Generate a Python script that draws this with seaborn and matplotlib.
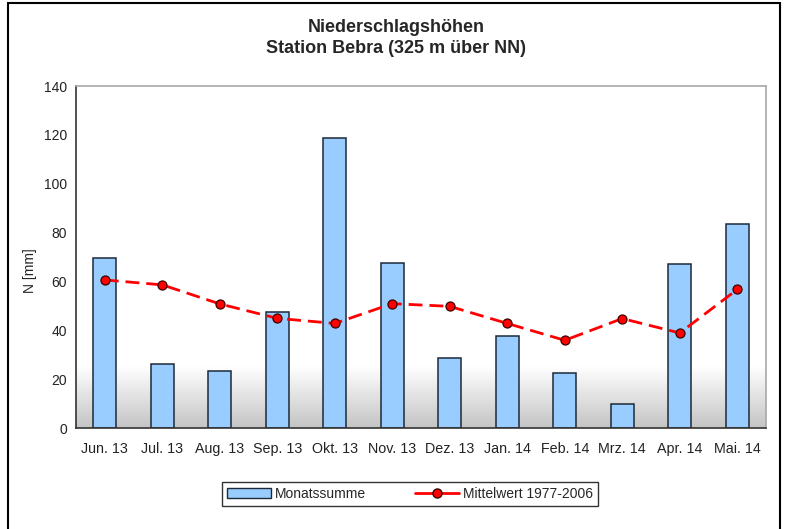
import numpy as np
import seaborn as sns
import matplotlib.pyplot as plt
from matplotlib.patches import Patch, Rectangle
from matplotlib.lines import Line2D
from matplotlib.colors import LinearSegmentedColormap

months = ["Jun. 13", "Jul. 13", "Aug. 13", "Sep. 13", "Okt. 13", "Nov. 13",
          "Dez. 13", "Jan. 14", "Feb. 14", "Mrz. 14", "Apr. 14", "Mai. 14"]
monatssumme = [69.5, 26.2, 23.4, 47.4, 118.7, 67.5, 28.7, 37.7, 22.5, 9.8, 67.1, 83.5]
mittelwert = [60.6, 58.6, 50.8, 44.9, 42.8, 50.9, 49.8, 42.8, 35.9, 44.8, 38.9, 56.7]

sns.set_style("white")
plt.rcParams["font.family"] = ["Liberation Sans", "DejaVu Sans"]

fig = plt.figure(figsize=(7.85, 5.29), dpi=100)
ax = fig.add_axes([76 / 785, 1 - 428 / 529, 690 / 785, 342 / 529])

# grey gradient at the bottom of the plot area
cmap = LinearSegmentedColormap.from_list("grad", ["#c4c4c4", "#ffffff"])
grad = np.linspace(0, 1, 256).reshape(-1, 1)
ax.imshow(grad, cmap=cmap, origin="lower", aspect="auto",
          extent=(-0.5, 11.5, 0, 25), zorder=0)

sns.barplot(x=months, y=monatssumme, ax=ax, width=0.4, color="#99ccff",
            saturation=1, edgecolor="#1c2a3a", linewidth=1.1, zorder=2)
sns.lineplot(x=np.arange(len(months)), y=mittelwert, ax=ax, color="red",
             linewidth=2, linestyle=(0, (5, 2.5)), marker="o", markersize=6.5,
             markeredgecolor="#3a0000", markeredgewidth=0.9, zorder=3)

ax.set_xlim(-0.5, 11.5)
ax.set_ylim(0, 140)
ax.set_yticks(range(0, 141, 20))
ax.set_xticks(np.arange(12))
ax.set_xticklabels(months)
ax.set_xticks(np.arange(-0.5, 12, 1), minor=True)
ax.tick_params(axis="x", which="major", length=0, labelsize=10.3, pad=10, colors="#222222")
ax.tick_params(axis="x", which="minor", length=6, direction="inout", color="#333333", width=1)
ax.tick_params(axis="y", length=6, direction="inout", labelsize=10, color="#333333",
               width=1, colors="#222222")
ax.set_ylabel("N [mm]", fontsize=10)
ax.yaxis.set_label_coords(-0.056, 0.459)
ax.set_xlabel("")

for s in ["left", "bottom"]:
    ax.spines[s].set_color("#333333")
    ax.spines[s].set_linewidth(1.2)
for s in ["top", "right"]:
    ax.spines[s].set_color("#a8a8a8")
    ax.spines[s].set_linewidth(1.2)

fig.text(0.505, 1 - 38 / 529, "Niederschlagshöhen\nStation Bebra (325 m über NN)",
         ha="center", va="center", fontsize=13, fontweight="bold", linespacing=1.25)

handles = [Patch(facecolor="#99ccff", edgecolor="#1c2a3a", linewidth=1),
           Line2D([], [], color="red", linewidth=2, marker="o", markersize=6.5,
                  markeredgecolor="#3a0000")]
leg = fig.legend(handles, ["Monatssumme", "Mittelwert 1977-2006"], ncol=2,
                 loc="center", bbox_to_anchor=(410 / 785, 1 - 494 / 529),
                 fontsize=10, frameon=True, fancybox=False, borderpad=0.35,
                 columnspacing=3.5, handlelength=3.2, handletextpad=0.3)
leg.get_frame().set_edgecolor("black")
leg.get_frame().set_linewidth(1)

fig.patches.append(Rectangle((8 / 785, -0.01), 772 / 785, 1 - 3 / 529 + 0.01,
                             transform=fig.transFigure, fill=False,
                             edgecolor="black", linewidth=1.5))

fig.savefig("out.png", dpi=100)
